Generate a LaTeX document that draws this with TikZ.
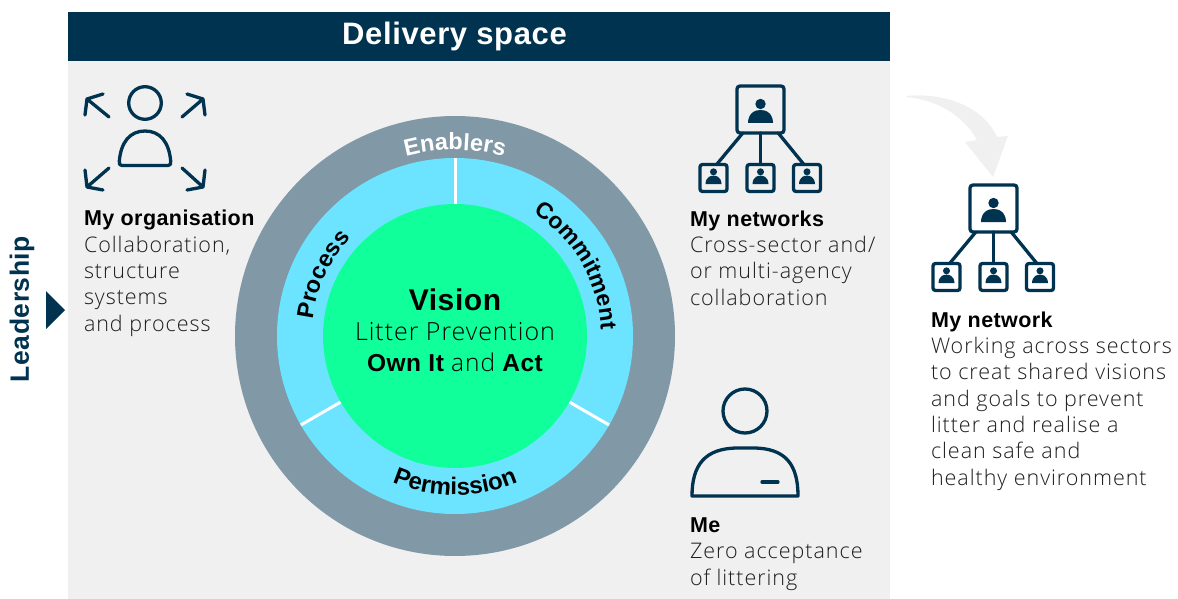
\documentclass[tikz,border=0pt]{standalone}
\usepackage{fontspec}
\usetikzlibrary{decorations.text}
\setmainfont{Open Sans Light}[LetterSpace=4.5]
\newfontfamily\lightfont{Open Sans Light}[LetterSpace=3.8]
\newfontfamily\boldfont{Liberation Sans}[LetterSpace=2]
\definecolor{navy}{HTML}{00334F}
\definecolor{bodytext}{HTML}{1E1E1E}
\definecolor{panel}{HTML}{F0F0F0}
\definecolor{ringout}{HTML}{8198A6}
\definecolor{ringmid}{HTML}{6DE4FF}
\definecolor{ringin}{HTML}{10FF9B}
\newcommand{\smallperson}[2]{%
  \begin{scope}[shift={(#1,#2)},scale=.64]
    \fill[navy] (0,19) circle[radius=5.5];
    \fill[navy] (-12.5,0) .. controls (-12.5,-0) and (-13,13) .. (0,13) .. controls (13,13) and (12.5,0) .. (12.5,0) -- cycle;
  \end{scope}}
\newcommand{\bigperson}[2]{%
  \begin{scope}[shift={(#1,#2)}]
    \fill[navy] (0,19) circle[radius=5.2];
    \fill[navy] (-12.5,0) .. controls (-12.5,0) and (-13,13) .. (0,13) .. controls (13,13) and (12.5,0) .. (12.5,0) -- cycle;
  \end{scope}}
\newcommand{\neticon}[3]{%
  \begin{scope}[shift={(#2,#3)}]
    \node[bigbox] (#1b) at (760.5,-109.5) {};
    \node[smallbox] (#1l) at (713.5,-178) {};
    \node[smallbox] (#1m) at (760.5,-178) {};
    \node[smallbox] (#1r) at (807,-178) {};
    \draw[iconline] (#1b.-127) -- (#1l.77);
    \draw[iconline] (#1b.south) -- (#1m.north);
    \draw[iconline] (#1b.-53) -- (#1r.103);
    \bigperson{760.5}{-123}
    \smallperson{713.5}{-184}
    \smallperson{760.5}{-184}
    \smallperson{807}{-184}
  \end{scope}}
\tikzset{
  iconline/.style={draw=navy,line width=3.3pt,line cap=round,line join=round},
  bigbox/.style={draw=navy,line width=3.3pt,rounded corners=3pt,minimum size=47pt,inner sep=0pt,outer sep=0pt},
  smallbox/.style={draw=navy,line width=3.3pt,rounded corners=2.5pt,minimum size=27pt,inner sep=0pt,outer sep=0pt},
  label/.style={anchor=base west,align=left,inner sep=0pt,outer sep=0pt,font=\fontsize{21.5}{26.3}\selectfont,text=bodytext},
  divider/.style={draw=white,line width=3pt},
}
\newcommand{\hd}[1]{{\fontsize{21.5}{26.3}\selectfont\boldfont\bfseries\color{black}#1}}
\begin{document}
\begin{tikzpicture}[x=1pt,y=1pt]
\useasboundingbox (0,0) rectangle (1178,-599);
\fill[white] (0,0) rectangle (1178,-599);
\node[fill=panel,minimum width=822pt,minimum height=538pt,inner sep=0pt,anchor=north west] (panel) at (68,-61) {};
\fill[navy] (68,-12) rectangle (890,-61);
\node[text=white,font=\fontsize{31}{31}\selectfont\boldfont\bfseries,inner sep=0pt] (head) at (454.5,-36) {Delivery space};
% left
\node[rotate=90,text=navy,font=\fontsize{26.5}{26.5}\selectfont\boldfont\bfseries,inner sep=0pt] (lead) at (22,-309) {Leadership};
\fill[navy] (46,-291) -- (65,-310) -- (46,-329) -- cycle;
% rings
\coordinate (c) at (455,-336);
\fill[ringout] (c) circle[radius=220];
\fill[ringmid] (c) circle[radius=178];
\draw[divider] (c) ++(90:132) -- ++(90:46);
\draw[divider] (c) ++(-30:132) -- ++(-30:46);
\draw[divider] (c) ++(210:132) -- ++(210:46);
\fill[ringin] (c) circle[radius=132];
\path[decorate,decoration={text along path,text align=center,text={|\fontsize{23.5}{23.5}\selectfont\boldfont\bfseries\color{white}|Enablers}}]
  (c) ++(135:186) arc[start angle=135,end angle=45,radius=186];
\path[decorate,decoration={text along path,text align=center,text={|\fontsize{23}{23}\selectfont\boldfont\bfseries\color{black}|Commitment}}]
  (c) ++(80:146) arc[start angle=80,end angle=-20,radius=146];
\path[decorate,decoration={text along path,text align=center,text={|\fontsize{23.5}{23.5}\selectfont\boldfont\bfseries\color{black}|Process}}]
  (c) ++(195:143) arc[start angle=195,end angle=115,radius=143];
\path[decorate,decoration={text along path,text align=center,text={|\fontsize{24}{24}\selectfont\boldfont\bfseries\color{black}|Permission}}]
  (c) ++(-135:159) arc[start angle=-135,end angle=-45,radius=159];
\node[inner sep=0pt,anchor=base,font=\fontsize{30}{30}\selectfont\boldfont\bfseries] (vision) at (455,-310) {Vision};
\node[inner sep=0pt,anchor=base,font=\fontsize{25}{25}\selectfont\lightfont] (litter) at (455,-340) {Litter Prevention};
\node[inner sep=0pt,anchor=base,font=\fontsize{24.5}{24.5}\selectfont] (own) at (455,-371) {\boldfont\bfseries Own It {\lightfont\mdseries and} Act};
% org icon
\draw[iconline] (145,-103) circle[radius=16.3];
\draw[iconline] (122,-165.5) -- (168,-165.5) .. controls (170.5,-165.5) and (171,-164) .. (170.7,-161) .. controls (169,-142) and (160,-131) .. (145,-131) .. controls (130,-131) and (121,-142) .. (119.3,-161) .. controls (119,-164) and (119.5,-165.5) .. (122,-165.5) -- cycle;
\draw[iconline] (109,-117) -- (87,-99) (103,-94) -- (87,-99) -- (85,-115);
\draw[iconline] (182,-117) -- (203,-99) (187,-94) -- (203,-99) -- (205,-115);
\draw[iconline] (109,-168) -- (87,-187) (85,-170) -- (87,-187) -- (103,-190);
\draw[iconline] (182,-168) -- (203,-187) (205,-170) -- (203,-187) -- (187,-190);
\node[label] (org) at (84,-331) {\hd{My organisation}\\Collaboration,\\structure\\systems\\and process};
% networks
\neticon{a}{0}{0}
\node[label] (nets) at (690,-305) {\hd{My networks}\\Cross-sector and/\\or multi-agency\\collaboration};
% me
\draw[iconline] (745,-411) circle[radius=22];
\draw[iconline] (692,-496) .. controls (692,-465) and (705,-448) .. (738,-448) -- (753,-448) .. controls (786,-448) and (798,-465) .. (798,-496) -- cycle;
\draw[iconline] (762,-482) -- (778,-482);
\node[label] (me) at (690,-585) {\hd{Me}\\Zero acceptance\\of littering};
% right
\fill[panel] (906,-96) .. controls (950,-92) and (985,-110) .. (997,-137) -- (1008,-136) -- (993,-177) -- (965,-142) -- (977,-140) .. controls (965,-118) and (940,-100) .. (906,-97) -- cycle;
\neticon{z}{233}{-99}
\node[label] (net) at (931,-485) {\hd{My network}\\Working across sectors\\to creat shared visions\\and goals to prevent\\litter and realise a\\clean safe and\\healthy environment};
\end{tikzpicture}
\end{document}
